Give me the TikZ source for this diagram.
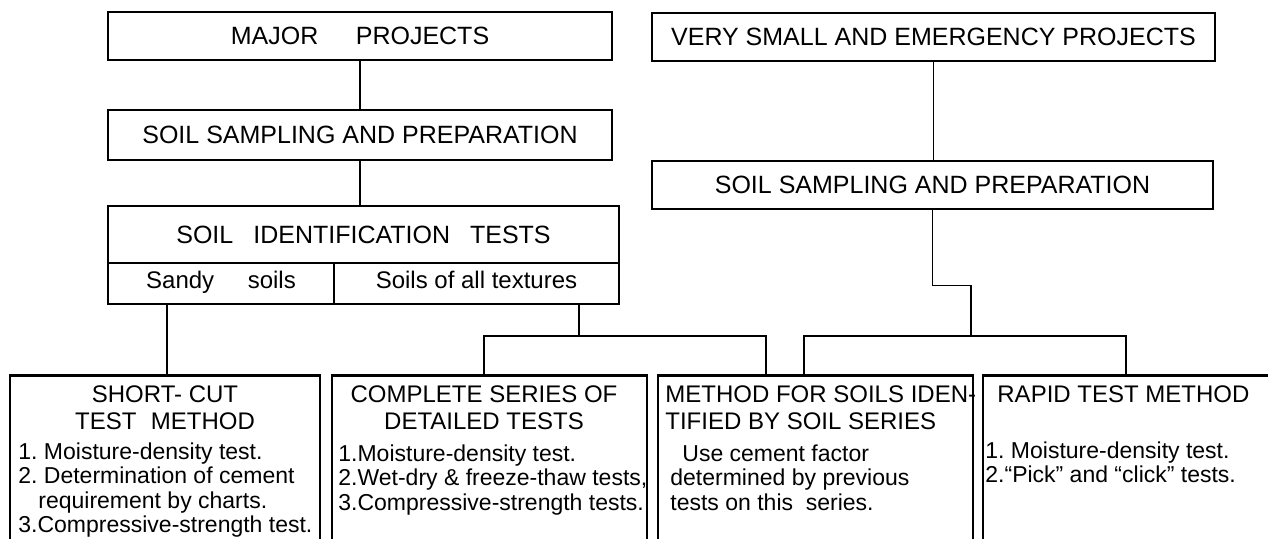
\documentclass[tikz,border=0pt]{standalone}
\usepackage{fontspec}
\setmainfont{Liberation Sans}
\frenchspacing
\tikzset{
  box/.style={draw, line width=1.3pt, inner sep=0pt, font=\fontsize{12.5}{15}\selectfont},
  subbox/.style={box, minimum height=20.5pt, text height=.72em, text depth=.2em, font=\fontsize{12}{14}\selectfont},
  cell/.style={draw, line width=1.3pt, inner sep=0pt},
  link/.style={line width=.8pt},
  head/.style={inner sep=0pt, font=\fontsize{12}{13.5}\selectfont},
  body/.style={inner sep=0pt, align=left, font=\fontsize{11.5}{12.25}\selectfont},
}

\begin{document}
\begin{tikzpicture}[x=.5pt, y=-.5pt]
      \useasboundingbox (0,0) rectangle (1268,538);
      \clip (0,0) rectangle (1268,538);
      % top boxes
      \node[box, minimum width=252pt, minimum height=24pt] (major) at (360,36) {MAJOR\hspace{1.5em}PROJECTS};
      \node[box, minimum width=281.5pt, minimum height=24pt] (vsmall) at (933.5,37) {VERY SMALL AND EMERGENCY PROJECTS};
      \node[box, minimum width=252pt, minimum height=25pt] (samp1) at (360,135) {SOIL SAMPLING AND PREPARATION};
      \node[box, minimum width=280.5pt, minimum height=24pt] (samp2) at (932.5,185) {SOIL SAMPLING AND PREPARATION};
      \node[box, minimum width=255.5pt, minimum height=28.5pt] (ident) at (363.5,234.5) {SOIL\hspace{.8em}IDENTIFICATION\hspace{.8em}TESTS};
      \node[subbox, minimum width=113pt] (sandy) at (221,283.5) {Sandy\hspace{1.4em}soils};
      \node[subbox, minimum width=142.5pt] (textures) at (476.5,283.5) {Soils of all textures};
      % bottom boxes, cut off by the page
      \node[cell, minimum width=155pt, minimum height=110pt, anchor=north] (shortcut) at (165,374) {};
      \node[cell, minimum width=157.5pt, minimum height=110pt, anchor=north] (complete) at (489.5,374) {};
      \node[cell, minimum width=157.5pt, minimum height=110pt, anchor=north] (method) at (815.5,374) {};
      \node[cell, minimum width=158.5pt, minimum height=110pt, anchor=north] (rapid) at (1141.5,374) {};
      % junctions
      \coordinate (jl) at (579,336);
      \coordinate (jr) at (971,336);
      % connectors
      \draw[link] (major) -- (samp1);
      \draw[link] (samp1.south) -- (samp1.south |- ident.north);
      \draw[link] (vsmall.south) -- (vsmall.south |- samp2.north);
      \draw[link] (samp2.south) -- ++(0,75) -| (jr);
      \draw[link] ([xshift=51.25pt]textures.south) -- (jl);
      \draw[link] ([xshift=-27pt]sandy.south) -- ([xshift=-27pt]sandy.south |- shortcut.north);
      \draw[link] ([xshift=-2.75pt]complete.north) |- (jl) -| ([xshift=-24.75pt]method.north);
      \draw[link] ([xshift=-5.75pt]method.north) |- (jr) -| ([xshift=-7.75pt]rapid.north);
      % texts of the bottom boxes
      \node[head, align=center, anchor=north] (schead) at (165,385.5) {SHORT- CUT\\TEST\hspace{.6em}METHOD};
      \node[body, anchor=north west] (scbody) at (18,442) {1. Moisture-density test.\\2. Determination of cement\\\hspace*{10pt}requirement by charts.\\3.Compressive-strength test.};
      \node[head, align=center, anchor=north] (cphead) at (484,385.5) {COMPLETE SERIES OF\\DETAILED TESTS};
      \node[body, anchor=north west] (cpbody) at (338,444) {1.Moisture-density test.\\2.Wet-dry \& freeze-thaw tests,\\3.Compressive-strength tests.};
      \node[head, align=left, anchor=north west] (mthead) at (665,385.5) {METHOD FOR SOILS IDEN-\\TIFIED BY SOIL SERIES};
      \node[body, anchor=north west] (mtbody) at (670,444) {\hspace*{6pt}Use cement factor\\determined by previous\\tests on this\ \ series.};
      \node[head, anchor=north west] (rphead) at (997,385.5) {RAPID TEST METHOD};
      \node[body, anchor=north west] (rpbody) at (985,441) {1. Moisture-density test.\\2.“Pick” and “click” tests.};
    \end{tikzpicture}
\end{document}
